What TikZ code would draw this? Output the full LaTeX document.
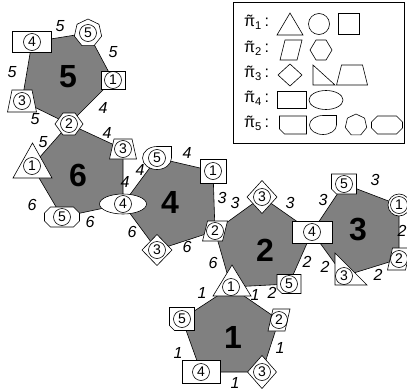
\documentclass[tikz,border=0pt]{standalone}
\usepackage{fontspec}
\setmainfont{Liberation Sans}
\usetikzlibrary{shapes.geometric}
\tikzset{
 poly/.style={fill=black!50, draw=black, line width=0.6pt, line join=miter},
 vs/.style={draw=black, fill=white, line width=0.6pt},
 cn/.style={circle, draw=black, line width=0.6pt, inner sep=0pt, minimum size=17pt, font=\fontsize{14}{14}\selectfont},
 el/.style={font=\itshape\fontsize{16}{16}\selectfont, inner sep=0pt},
 big/.style={font=\bfseries\fontsize{32}{32}\selectfont, inner sep=0pt},
 lg/.style={font=\fontsize{16}{16}\selectfont, inner sep=0pt, anchor=west},
 boxline/.style={draw=black, line width=0.6pt},
}
\newcommand\Rect[3]{\path[vs,shift={(#1)}] (-#2/2,-#3/2) rectangle (#2/2,#3/2);}
\newcommand\Ell[3]{\path[vs,shift={(#1)}] (0,0) ellipse [x radius=#2/2, y radius=#3/2];}
\newcommand\Diam[3]{\path[vs,shift={(#1)}] (0,-#3/2) -- (#2/2,0) -- (0,#3/2) -- (-#2/2,0) -- cycle;}
\newcommand\Circ[2]{\path[vs,shift={(#1)}] (0,0) circle [radius=#2];}
\newcommand\Hexa[4]{\path[vs,shift={(#1)}] (-#2/2,0) -- (-#2/2+#4,-#3/2) -- (#2/2-#4,-#3/2) -- (#2/2,0) -- (#2/2-#4,#3/2) -- (-#2/2+#4,#3/2) -- cycle;}
\newcommand\Hept[2]{\path[vs,shift={(#1)}] (-90:#2) -- (-38.57:#2) -- (12.86:#2) -- (64.29:#2) -- (115.71:#2) -- (167.14:#2) -- (218.57:#2) -- cycle;}
\newcommand\Octa[4]{\path[vs,shift={(#1)}] (-#2/2+#4,-#3/2) -- (#2/2-#4,-#3/2) -- (#2/2,-#3/2+#4) -- (#2/2,#3/2-#4) -- (#2/2-#4,#3/2) -- (-#2/2+#4,#3/2) -- (-#2/2,#3/2-#4) -- (-#2/2,-#3/2+#4) -- cycle;}
\newcommand\Trap[4]{\path[vs,shift={(#1)}] (-#2/2,-#4/2) -- (#2/2,-#4/2) -- (#3/2,#4/2) -- (-#3/2,#4/2) -- cycle;}
\newcommand\Para[4]{\path[vs,shift={(#1)}] (-#2/2+#4,-#3/2) -- (#2/2,-#3/2) -- (#2/2-#4,#3/2) -- (-#2/2,#3/2) -- cycle;}
\newcommand\Tri[3]{\path[vs,shift={(#1)}] (0,-#3/2) -- (#2/2,#3/2) -- (-#2/2,#3/2) -- cycle;}
\newcommand\RTri[3]{\path[vs,shift={(#1)}] (-#2/2,-#3/2) -- (-#2/2,#3/2) -- (#2/2,#3/2) -- cycle;}
\newcommand\Cham[4]{\path[vs,shift={(#1)}] (-#2/2,-#3/2) -- (#2/2,-#3/2) -- (#2/2,#3/2) -- (-#2/2+#4,#3/2) -- (-#2/2,#3/2-#4) -- cycle;}
\newcommand\Drop[3]{\path[vs,shift={(#1)}] (#2/2,0) -- (#2/2,-#3/2) -- (0,-#3/2) arc [start angle=270, end angle=0, x radius=#2/2, y radius=#3/2] -- cycle;}
\newcommand\PiLab[1]{\ooalign{π\cr\hidewidth\raisebox{0.02em}{˜}\hidewidth\cr}\textsubscript{#1}\,:}
\begin{document}
\begin{tikzpicture}[x=1pt,y=-1pt]
\useasboundingbox (0,0) rectangle (407,391);
% vertex coordinates
\coordinate (a4) at (32,42); \coordinate (a5) at (88,33); \coordinate (a1) at (113,80); \coordinate (s56) at (69,124); \coordinate (a3) at (22,101);
\coordinate (b1) at (32,166); \coordinate (b3) at (123,149); \coordinate (s64) at (123,204); \coordinate (b5) at (62,217);
\coordinate (c5) at (157,158); \coordinate (c1) at (213,171); \coordinate (s42) at (215,231); \coordinate (c3) at (157,250);
\coordinate (d3) at (262,197); \coordinate (s23) at (312,232); \coordinate (d5) at (289,284); \coordinate (s21) at (231,287);
\coordinate (e5) at (344,184); \coordinate (e1) at (399,205); \coordinate (e2) at (399,259); \coordinate (e3) at (344,276);
\coordinate (f2) at (279,320); \coordinate (f3) at (262,372); \coordinate (f4) at (201,372); \coordinate (f5) at (182,319);
% polygons
\path[poly] (a4) -- (a5) -- (a1) -- (s56) -- (a3) -- cycle;
\path[poly] (s56) -- (b3) -- (s64) -- (b5) -- (b1) -- cycle;
\path[poly] (s64) -- (c5) -- (c1) -- (s42) -- (c3) -- cycle;
\path[poly] (s42) -- (d3) -- (s23) -- (d5) -- (s21) -- cycle;
\path[poly] (s23) -- (e5) -- (e1) -- (e2) -- (e3) -- cycle;
\path[poly] (s21) -- (f2) -- (f3) -- (f4) -- (f5) -- cycle;
% vertex shapes
\Rect{a4}{39}{21} \Hept{a5}{14} \Rect{a1}{24}{18} \Hexa{s56}{28}{22}{8} \Trap{22,101}{20}{29}{22}
\Tri{32.5,160.5}{39}{35} \Trap{b3}{18}{27}{20} \Ell{s64}{47}{20} \Octa{b5}{35}{20}{6}
\Drop{c5}{29}{23} \Rect{c1}{26}{24} \Para{s42}{25}{20}{5} \Diam{c3}{30}{31}
\Diam{d3}{30}{33} \Rect{s23}{40}{22} \Cham{d5}{24}{19}{5} \Tri{232,280.5}{38}{31}
\Cham{e5}{25}{20}{5} \Circ{e1}{11} \Para{e2}{23}{22}{5} \RTri{351,269}{32}{32}
\Para{f2}{22}{22}{5} \Diam{f3}{29}{33} \Rect{f4}{38}{23} \Cham{f5}{25}{23}{5}
% circled numbers
\node[cn] (na4) at (a4) {4}; \node[cn] (na5) at (a5) {5}; \node[cn] (na1) at (a1) {1}; \node[cn] (ns56) at (s56) {2}; \node[cn] (na3) at (a3) {3};
\node[cn] (nb1) at (b1) {1}; \node[cn] (nb3) at (b3) {3}; \node[cn] (ns64) at (s64) {4}; \node[cn] (nb5) at (b5) {5};
\node[cn] (nc5) at (c5) {5}; \node[cn] (nc1) at (c1) {1}; \node[cn] (ns42) at (s42) {2}; \node[cn] (nc3) at (c3) {3};
\node[cn] (nd3) at (d3) {3}; \node[cn] (ns23) at (s23) {4}; \node[cn] (nd5) at (d5) {5}; \node[cn] (ns21) at (s21) {1};
\node[cn] (ne5) at (e5) {5}; \node[cn] (ne1) at (e1) {1}; \node[cn] (ne2) at (e2) {2}; \node[cn] (ne3) at (e3) {3};
\node[cn] (nf2) at (f2) {2}; \node[cn] (nf3) at (f3) {3}; \node[cn] (nf4) at (f4) {4}; \node[cn] (nf5) at (f5) {5};
% edge labels
\node[el] (l51) at (60,26) {5}; \node[el] (l52) at (113,52) {5}; \node[el] (l53) at (103,108) {4}; \node[el] (l54) at (35,119) {5}; \node[el] (l55) at (12,72) {5};
\node[el] (l61) at (43,142) {5}; \node[el] (l62) at (107,133) {4}; \node[el] (l63) at (125,182) {4}; \node[el] (l64) at (90,222) {6}; \node[el] (l65) at (32,205) {6};
\node[el] (l41) at (187,153) {4}; \node[el] (l42) at (140,170) {4}; \node[el] (l43) at (222,198) {3}; \node[el] (l44) at (187,247) {6}; \node[el] (l45) at (132,232) {6};
\node[el] (l21) at (235,203) {3}; \node[el] (l22) at (290,203) {3}; \node[el] (l23) at (307,262) {2}; \node[el] (l24) at (272,293) {2}; \node[el] (l25) at (213,263) {6};
\node[el] (l31) at (323,200) {3}; \node[el] (l32) at (375,180) {3}; \node[el] (l33) at (402,231) {2}; \node[el] (l34) at (378,275) {2}; \node[el] (l35) at (325,267) {2};
\node[el] (l11) at (202,293) {1}; \node[el] (l12) at (255,295) {1}; \node[el] (l13) at (280,348) {1}; \node[el] (l14) at (235,383) {1}; \node[el] (l15) at (178,353) {1};
% polygon labels
\node[big] (g5) at (68,77) {5}; \node[big] (g6) at (78,175) {6}; \node[big] (g4) at (170,202) {4};
\node[big] (g2) at (265,250) {2}; \node[big] (g3) at (358,230) {3}; \node[big] (g1) at (233,337) {1};
% legend
\path[boxline, fill=white] (233,2) rectangle (404,143);
\node[lg] (p1) at (244,24) {\PiLab{1}};
\node[lg] (p2) at (244,50) {\PiLab{2}};
\node[lg] (p3) at (244,75) {\PiLab{3}};
\node[lg] (p4) at (244,100) {\PiLab{4}};
\node[lg] (p5) at (244,125) {\PiLab{5}};
\Tri{290,24}{26}{22} \Circ{319,24}{10.5} \Rect{349,24}{21}{21}
\Para{291,50}{22}{20}{5} \Hexa{321,50}{22}{20}{6}
\Diam{290,75}{24}{22} \RTri{324,75}{22}{20} \Trap{352,75}{21}{31}{20}
\Rect{292,100}{29}{17} \Ell{326,100}{34}{19}
\Cham{293,125}{27}{18}{5} \Drop{323,125}{27}{19} \Hept{356,125}{11} \Octa{387,125}{31}{18}{6}
\end{tikzpicture}
\end{document}
